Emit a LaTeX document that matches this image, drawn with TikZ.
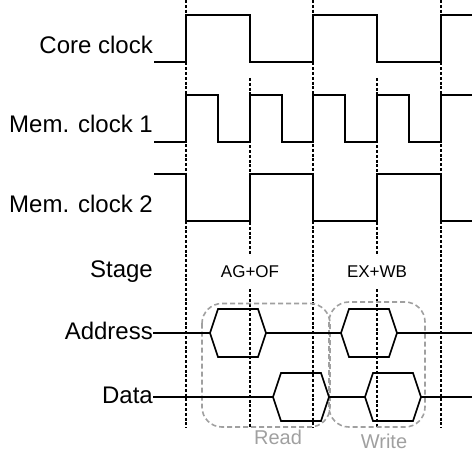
\documentclass[tikz,border=0pt]{standalone}
\usepackage{fontspec}
\setmainfont{Liberation Sans}
\begin{document}
\begin{tikzpicture}[x=1pt,y=-1pt,
  sig/.style={line width=1.7pt,line join=miter},
  guide/.style={line width=1.1pt,dash pattern=on 3pt off 1.8pt},
  group/.style={draw=grouppen,line width=1.6pt,dash pattern=on 5pt off 3pt,rounded corners=20pt},
  lbl/.style={anchor=base east,inner sep=0pt,font=\fontsize{24}{28}\selectfont},
  stagelbl/.style={fill=white,inner xsep=2pt,inner ysep=0pt,minimum height=31pt,font=\fontsize{17}{20}\selectfont},
  grouplbl/.style={anchor=base,inner sep=0pt,text=grouppen,font=\fontsize{20}{24}\selectfont},
  hexbus/.pic={
    \draw[sig] (0,0) -- (8,-24) -- (48,-24) -- (56,0) -- (48,24) -- (8,24) -- cycle;
    \coordinate (-l) at (0,0);
    \coordinate (-r) at (56,0);
  }]
\definecolor{grouppen}{RGB}{160,160,160}
\useasboundingbox (0,0) rectangle (472,452);

% cycle boundaries (full height) and half-cycle marks
\foreach \x in {186,313,441} \draw[guide] (\x,0) -- (\x,428);
\foreach \x in {250,377} \draw[guide] (\x,78) -- (\x,428);

% read / write groupings
\draw[group] (202,303.5) rectangle (330,427);
\draw[group] (329,302) rectangle (425,427);

% signal names
\node[lbl] (core) at (153,54) {Core clock};
\node[lbl] (mem1) at (153,133) {Mem. clock 1};
\node[lbl] (mem2) at (153,212) {Mem. clock 2};
\node[lbl] (stage) at (153,277) {Stage};
\node[lbl] (addr) at (153,339) {Address};
\node[lbl] (data) at (153,403) {Data};

% clock waveforms
\draw[sig] (154,62) -- (186,62) -- (186,15) -- (250,15) -- (250,62) -- (313,62)
  -- (313,15) -- (377,15) -- (377,62) -- (441,62) -- (441,15) -- (472,15);
\draw[sig] (154,142) -- (186,142) -- (186,95) -- (218,95) -- (218,142) -- (250,142)
  -- (250,95) -- (282,95) -- (282,142) -- (313,142) -- (313,95) -- (345,95)
  -- (345,142) -- (377,142) -- (377,95) -- (409,95) -- (409,142) -- (441,142)
  -- (441,95) -- (472.5,95) -- (472.5,142);
\draw[sig] (154,174) -- (186,174) -- (186,221) -- (250,221) -- (250,174) -- (313,174)
  -- (313,221) -- (377,221) -- (377,174) -- (441,174) -- (441,221) -- (472,221);

% bus values
\pic (ah1) at (210,333) {hexbus};
\pic (ah2) at (341,333) {hexbus};
\pic (dh1) at (273,397) {hexbus};
\pic (dh2) at (365,397) {hexbus};

\coordinate (a0) at (153,333);
\coordinate (a1) at (472,333);
\coordinate (d0) at (153,397);
\coordinate (d1) at (472,397);
\draw[sig] (a0) -- (ah1-l);
\draw[sig] (ah1-r) -- (ah2-l);
\draw[sig] (ah2-r) -- (a1);
\draw[sig] (d0) -- (dh1-l);
\draw[sig] (dh1-r) -- (dh2-l);
\draw[sig] (dh2-r) -- (d1);

% stage names
\node[stagelbl] (st1) at (250,271.5) {AG+OF};
\node[stagelbl] (st2) at (377,271.5) {EX+WB};

% group names
\node[grouplbl] (rd) at (278,444) {Read};
\node[grouplbl] (wr) at (384,448) {Write};
\end{tikzpicture}
\end{document}
